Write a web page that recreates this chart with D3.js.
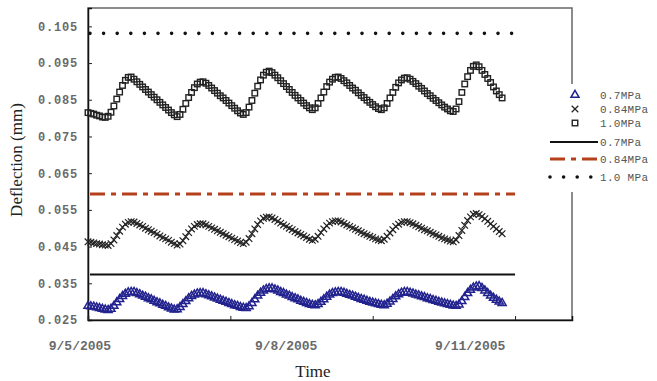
<!DOCTYPE html>
<html>
<head>
<meta charset="utf-8">
<script src="https://cdn.jsdelivr.net/npm/d3@7"></script>
<style>
  body { margin: 0; background: #fff; }
  svg { display: block; }
</style>
</head>
<body>
<div class="item"></div>
<script>
var width = 657;
var height = 381;

// hourly readings from 9/5/2005 00:00 (hour index)
var p07 = [
  .0288, .0287, .0286, .0284, .0282, .0280, .0278, .0277,
  .0280, .0288, .0298, .0307, .0315, .0321, .0325, .0326, .0326,
  .0323, .0320, .0316, .0313, .0309, .0306, .0302, .0298, .0295, .0291, .0288, .0284, .0281, .0278,
  .0279, .0285, .0293, .0301, .0309, .0315, .0319, .0322, .0323, .0323,
  .0320, .0317, .0314, .0311, .0308, .0305, .0302, .0299, .0296, .0293, .0290, .0288, .0285, .0283, .0282,
  .0287, .0296, .0306, .0316, .0324, .0330, .0334, .0336, .0336,
  .0333, .0330, .0326, .0323, .0319, .0316, .0312, .0309, .0306, .0302, .0299, .0296, .0293, .0291, .0290,
  .0293, .0299, .0306, .0313, .0319, .0323, .0325, .0326, .0326,
  .0324, .0321, .0318, .0316, .0313, .0310, .0307, .0305, .0302, .0299, .0297, .0295, .0293, .0291, .0290,
  .0294, .0300, .0307, .0314, .0320, .0324, .0326, .0326,
  .0324, .0322, .0319, .0317, .0314, .0312, .0309, .0307, .0304, .0302, .0299, .0297, .0295, .0293, .0291, .0289, .0288,
  .0292, .0301, .0312, .0323, .0332, .0338, .0341, .0342,
  .0337, .0330, .0323, .0316, .0310, .0305, .0300, .0296
];

var p084 = [
  .0463, .0462, .0460, .0458, .0457, .0455, .0454, .0453,
  .0458, .0468, .0480, .0492, .0503, .0511, .0516, .0518, .0517,
  .0513, .0509, .0505, .0500, .0496, .0492, .0488, .0484, .0479, .0475, .0471, .0467, .0462, .0458, .0454,
  .0457, .0466, .0477, .0488, .0498, .0505, .0510, .0512, .0512,
  .0509, .0505, .0501, .0497, .0493, .0489, .0485, .0481, .0477, .0473, .0469, .0465, .0461, .0458,
  .0462, .0472, .0485, .0498, .0510, .0520, .0527, .0530, .0531,
  .0528, .0524, .0519, .0514, .0509, .0505, .0500, .0496, .0491, .0487, .0483, .0479, .0475, .0470, .0467,
  .0470, .0478, .0488, .0498, .0507, .0514, .0518, .0520, .0520,
  .0517, .0513, .0509, .0505, .0501, .0497, .0493, .0489, .0485, .0482, .0478, .0475, .0471, .0468, .0466,
  .0470, .0478, .0487, .0496, .0505, .0511, .0516, .0518, .0518,
  .0515, .0512, .0508, .0504, .0500, .0496, .0493, .0489, .0485, .0482, .0478, .0474, .0471, .0468, .0465, .0463,
  .0468, .0480, .0494, .0508, .0521, .0531, .0538, .0540,
  .0537, .0532, .0526, .0519, .0512, .0505, .0498, .0491, .0485
];

var p10 = [
  .0815, .0813, .0811, .0808, .0806, .0803, .0802,
  .0805, .0816, .0833, .0852, .0871, .0889, .0903, .0911, .0912, .0906,
  .0899, .0892, .0885, .0878, .0871, .0864, .0857, .0850, .0843, .0836, .0829, .0822, .0815, .0809, .0804,
  .0810, .0824, .0840, .0856, .0870, .0883, .0893, .0898, .0899,
  .0895, .0889, .0882, .0875, .0868, .0861, .0855, .0848, .0841, .0834, .0827, .0820, .0814, .0810,
  .0815, .0830, .0848, .0868, .0887, .0904, .0917, .0925, .0928,
  .0924, .0917, .0910, .0902, .0894, .0886, .0878, .0870, .0862, .0855, .0848, .0841, .0834, .0828, .0823,
  .0828, .0840, .0855, .0871, .0886, .0898, .0906, .0911, .0912,
  .0908, .0902, .0896, .0889, .0882, .0876, .0869, .0862, .0856, .0849, .0843, .0837, .0831, .0826, .0823,
  .0828, .0840, .0855, .0870, .0884, .0896, .0904, .0909, .0910,
  .0906, .0900, .0894, .0887, .0881, .0874, .0867, .0861, .0854, .0848, .0842, .0836, .0830, .0825, .0820, .0818,
  .0825, .0845, .0870, .0893, .0913, .0930, .0941, .0945,
  .0940, .0930, .0919, .0908, .0897, .0885, .0874, .0864, .0855
];

// reference (horizontal) levels
var levels = [
  {name: "0.7MPa", value: 0.0374},
  {name: "0.84MPa", value: 0.0593},
  {name: "1.0 MPa", value: 0.1031}
];
var levelEnd = 148.5;   // hours

var yTicks = [0.025, 0.035, 0.045, 0.055, 0.065, 0.075, 0.085, 0.095, 0.105];
var xTicks = [0, 49.5, 99, 148.5];
var xLabels = ["9/5/2005", "9/8/2005", "9/11/2005"];
var xLabelPos = [-2.8, 68.9, 132.9];

var margin = {left: 88, right: 85, top: 8, bottom: 61};

var svg = d3.select(".item")
    .append("svg")
    .attr("width", width)
    .attr("height", height);

var x = d3.scaleLinear().domain([0, 168.3]).range([margin.left, width - margin.right]);
var y = d3.scaleLinear().domain([0.025, 0.11]).range([height - margin.bottom, margin.top]);

// frame
svg.append("rect")
    .attr("x", x(0)).attr("y", y(0.11))
    .attr("width", x(168.3) - x(0)).attr("height", y(0.025) - y(0.11))
    .attr("fill", "none").attr("stroke", "#666").attr("stroke-width", 1.5);

// axes with inward ticks
var yAxis = d3.axisLeft(y).tickValues(yTicks).tickSize(-4).tickFormat(d3.format(".3f"));
var gy = svg.append("g").attr("transform", "translate(" + x(0) + ",0)").call(yAxis);
gy.select(".domain").attr("stroke", "#111").attr("stroke-width", 1.5);
gy.selectAll(".tick line").attr("stroke", "#222");
gy.selectAll(".tick text")
    .attr("x", -10)
    .style("font-family", "Liberation Mono, DejaVu Sans Mono, monospace")
    .style("font-size", "12px")
    .style("letter-spacing", "0.8px")
    .style("font-weight", "bold")
    .attr("fill", "#6a6a6a");

var xAxis = d3.axisBottom(x).tickValues(xTicks).tickSize(-4).tickFormat("");
var gx = svg.append("g").attr("transform", "translate(0," + y(0.025) + ")").call(xAxis);
gx.select(".domain").attr("stroke", "#111").attr("stroke-width", 1.5);
gx.selectAll(".tick line").attr("stroke", "#222");

svg.selectAll(".xlab")
    .data(xLabels)
    .enter().append("text")
    .attr("class", "xlab")
    .attr("x", function(d, i) { return x(xLabelPos[i]); })
    .attr("y", y(0.025) + 30)
    .attr("text-anchor", "middle")
    .style("font-family", "Liberation Mono, DejaVu Sans Mono, monospace")
    .style("font-size", "13px")
    .style("font-weight", "bold")
    .attr("fill", "#6a6a6a")
    .text(function(d) { return d; });

// axis titles
svg.append("text")
    .attr("transform", "translate(22," + 160 + ") rotate(-90)")
    .attr("text-anchor", "middle")
    .style("font-family", "Liberation Serif, serif")
    .style("font-size", "17px")
    .attr("fill", "#222")
    .text("Deflection (mm)");

svg.append("text")
    .attr("x", 313).attr("y", 377)
    .attr("text-anchor", "middle")
    .style("font-family", "Liberation Serif, serif")
    .style("font-size", "17px")
    .attr("fill", "#222")
    .text("Time");

// horizontal level lines
var levelStyle = [
  {stroke: "#111", width: 2, dash: null, cap: "butt"},
  {stroke: "#b5401c", width: 3, dash: "15,6,5,6", cap: "butt"},
  {stroke: "#111", width: 3.6, dash: "0,13.6", cap: "round"}
];

svg.selectAll(".level")
    .data(levels)
    .enter().append("line")
    .attr("class", "level")
    .attr("x1", x(0) + 2).attr("x2", x(levelEnd))
    .attr("y1", function(d) { return y(d.value); })
    .attr("y2", function(d) { return y(d.value); })
    .attr("stroke", function(d, i) { return levelStyle[i].stroke; })
    .attr("stroke-width", function(d, i) { return levelStyle[i].width; })
    .attr("stroke-dasharray", function(d, i) { return levelStyle[i].dash; })
    .attr("stroke-linecap", function(d, i) { return levelStyle[i].cap; });

// markers
var triangle = d3.symbol().type(d3.symbolTriangle).size(28);
var cross = d3.symbol().type(d3.symbolX).size(30);

svg.append("g").selectAll("path")
    .data(p07)
    .enter().append("path")
    .attr("d", triangle)
    .attr("transform", function(d, i) { return "translate(" + x(i) + "," + y(d) + ")"; })
    .attr("fill", "none")
    .attr("stroke", "#23238f")
    .attr("stroke-width", 1.5);

svg.append("g").selectAll("path")
    .data(p084)
    .enter().append("path")
    .attr("d", cross)
    .attr("transform", function(d, i) { return "translate(" + x(i) + "," + y(d) + ")"; })
    .attr("fill", "none")
    .attr("stroke", "#222")
    .attr("stroke-width", 1.2);

svg.append("g").selectAll("rect")
    .data(p10)
    .enter().append("rect")
    .attr("x", function(d, i) { return x(i) - 2.75; })
    .attr("y", function(d) { return y(d) - 2.75; })
    .attr("width", 5.5).attr("height", 5.5)
    .attr("fill", "none")
    .attr("stroke", "#222")
    .attr("stroke-width", 1.4);

// legend
var legend = svg.append("g");
legend.append("rect")
    .attr("x", 546).attr("y", 84).attr("width", 111).attr("height", 108)
    .attr("fill", "#fff");

var legRows = [95, 109, 123, 142, 159, 177];
var legNames = ["0.7MPa", "0.84MPa", "1.0MPa", "0.7MPa", "0.84MPa", "1.0 MPa"];

legend.selectAll("text")
    .data(legNames)
    .enter().append("text")
    .attr("x", 600)
    .attr("y", function(d, i) { return legRows[i]; })
    .attr("dy", "0.35em")
    .style("font-family", "Liberation Mono, DejaVu Sans Mono, monospace")
    .style("font-size", "11px")
    .style("letter-spacing", "0.3px")
    .attr("fill", "#555")
    .text(function(d) { return d; });

legend.append("path").attr("d", triangle)
    .attr("transform", "translate(575," + legRows[0] + ")")
    .attr("fill", "none").attr("stroke", "#23238f").attr("stroke-width", 1.5);
legend.append("path").attr("d", cross)
    .attr("transform", "translate(575," + legRows[1] + ")")
    .attr("fill", "none").attr("stroke", "#222").attr("stroke-width", 1.2);
legend.append("rect")
    .attr("x", 572.25).attr("y", legRows[2] - 2.75).attr("width", 5.5).attr("height", 5.5)
    .attr("fill", "none").attr("stroke", "#222").attr("stroke-width", 1.4);

legend.selectAll(".legline")
    .data(levels)
    .enter().append("line")
    .attr("class", "legline")
    .attr("x1", 550).attr("x2", 598)
    .attr("y1", function(d, i) { return legRows[3 + i]; })
    .attr("y2", function(d, i) { return legRows[3 + i]; })
    .attr("stroke", function(d, i) { return levelStyle[i].stroke; })
    .attr("stroke-width", function(d, i) { return levelStyle[i].width; })
    .attr("stroke-dasharray", function(d, i) { return levelStyle[i].dash; })
    .attr("stroke-linecap", function(d, i) { return levelStyle[i].cap; });
</script>
</body>
</html>
